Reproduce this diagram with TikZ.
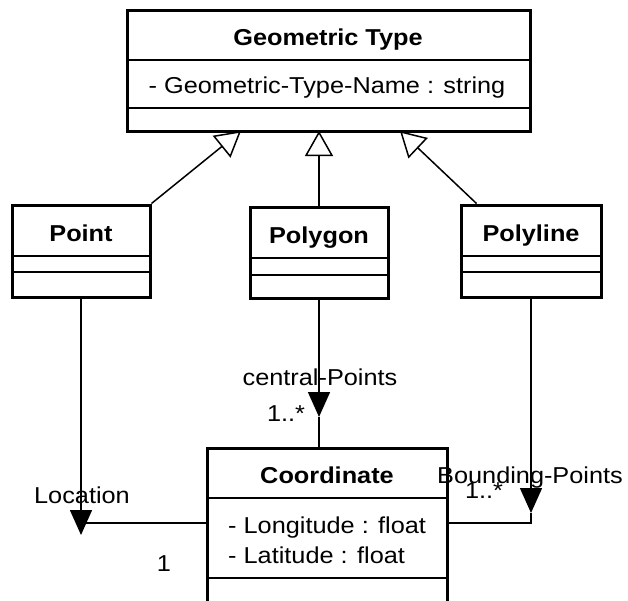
\documentclass[tikz,border=0pt]{standalone}
\usepackage{fontspec}
\setmainfont{Liberation Sans}[FakeStretch=1.1]
\usetikzlibrary{arrows.meta,calc}
\begin{document}
\begin{tikzpicture}[x=1pt,y=-1pt,
  classbox/.style={draw, line width=3pt, fill=white, inner sep=0pt},
  divider/.style={line width=1.5pt},
  lbl/.style={font=\fontsize{23pt}{27pt}\selectfont, inner sep=0pt, text height=21.5pt, text depth=5pt},
  ttl/.style={lbl, font=\fontsize{23pt}{27pt}\selectfont\bfseries},
  conn/.style={line width=1.5pt},
  inherit/.style={conn, -{Triangle[open, width=28pt, length=25pt, line width=1.5pt]}},
  nav/.style={conn, -{Triangle[width=22pt, length=25pt]}}
]
\useasboundingbox (0,0) rectangle (628,600);

% class boxes
\node[classbox, minimum width=403pt, minimum height=121pt] (gt) at (328.5,70.5) {};
\node[classbox, minimum width=138pt, minimum height=92pt] (point) at (81,251) {};
\node[classbox, minimum width=138pt, minimum height=91pt] (poly) at (319,252.5) {};
\node[classbox, minimum width=140pt, minimum height=92pt] (pline) at (531,251) {};
\node[classbox, minimum width=240pt, minimum height=160pt] (coord) at (327,528) {};

% compartment separators
\draw[divider] (127,60) -- (530,60) (127,108) -- (530,108);
\draw[divider] (12,256) -- (150,256) (12,272) -- (150,272);
\draw[divider] (250,258) -- (388,258) (250,275) -- (388,275);
\draw[divider] (461,256) -- (601,256) (461,272) -- (601,272);
\draw[divider] (207,498) -- (447,498) (207,578) -- (447,578);

% class names and attributes
\node[ttl] (gtname) at (328,37) {Geometric Type};
\node[lbl] (gtattr) at (327,85) {- Geometric-Type-Name : string};
\node[ttl] (ptname) at (81,233) {Point};
\node[ttl] (pgname) at (319,235) {Polygon};
\node[ttl] (plname) at (531,233) {Polyline};
\node[ttl] (coname) at (327,475) {Coordinate};
\node[lbl, anchor=west] (colon) at (228,525) {- Longitude : float};
\node[lbl, anchor=west] (colat) at (228,555) {- Latitude : float};

% generalizations
\coordinate (gtL) at (241,131);
\coordinate (gtM) at (319,131);
\coordinate (gtR) at (400,131);
\draw[inherit] (point.north east) -- (gtL);
\draw[inherit] (poly.north) -- (gtM);
\draw[inherit] ($(pline.north west)+(17,0)$) -- (gtR);

% associations
\coordinate (cpTip) at (319,417);
\draw[nav] (poly.south) -- (cpTip);
\draw[conn] (cpTip) -- (cpTip |- coord.north);

\coordinate (locTip) at (81,535);
\coordinate (locBend) at (81,523);
\draw[nav] (point.south) -- (locTip);
\draw[conn] (locBend) -- (locBend -| coord.west);

\coordinate (bpTip) at (531,513);
\coordinate (bpBend) at (531,523);
\draw[nav] (pline.south) -- (bpTip);
\draw[conn] (bpTip) -- (bpBend) -- (bpBend -| coord.east);

% role names and multiplicities
\node[lbl] (cpRole) at (320,377) {central-Points};
\node[lbl] (cpMult) at (286,413) {1..*};
\node[lbl] (locRole) at (82,495) {Location};
\node[lbl] (locMult) at (164,563) {1};
\node[lbl] (bpRole) at (530,475) {Bounding-Points};
\node[lbl] (bpMult) at (484,490) {1..*};
\end{tikzpicture}
\end{document}
